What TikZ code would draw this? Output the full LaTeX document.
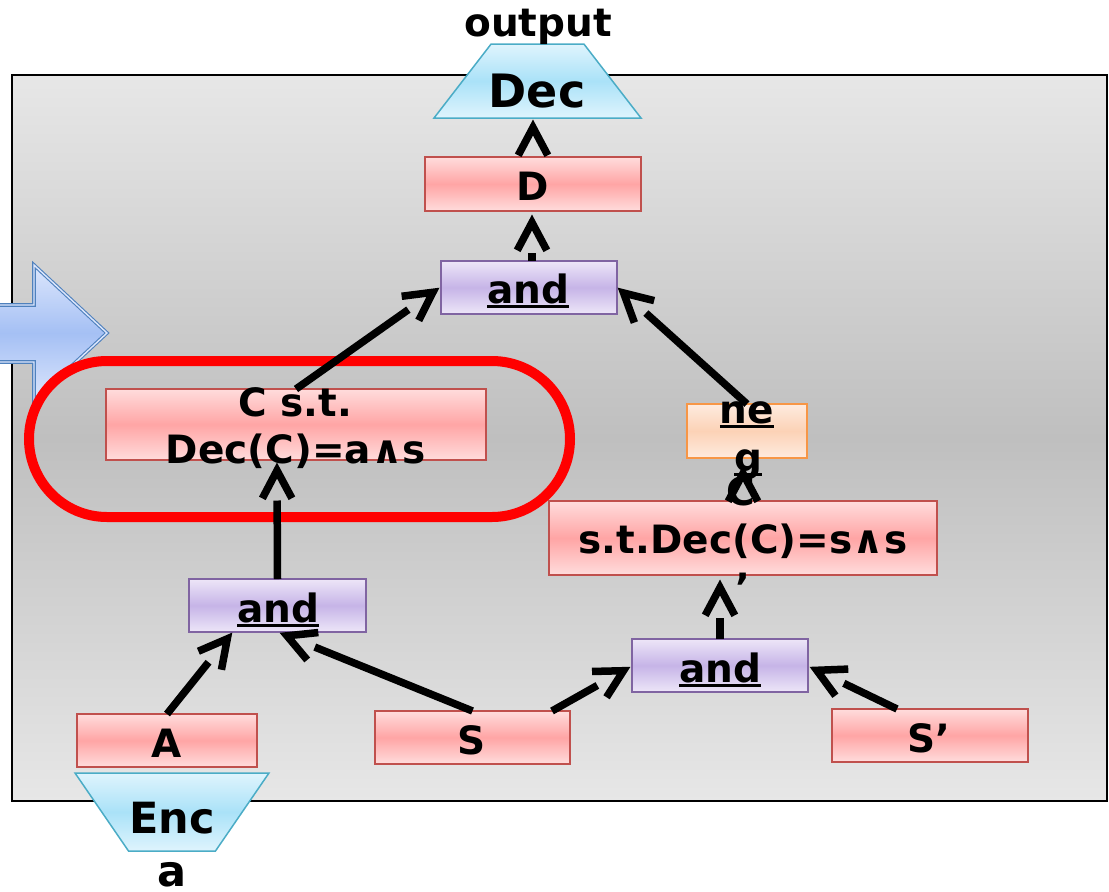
\documentclass[tikz,border=0pt]{standalone}
\usepackage{fontspec}
\setmainfont{DejaVu Sans}
\usetikzlibrary{calc,shapes.geometric}

\definecolor{frameEdge}{HTML}{E7E7E7}
\definecolor{frameMid}{HTML}{BFBFBF}
\definecolor{pinkEdge}{HTML}{FFDCDC}
\definecolor{pinkMid}{HTML}{FFA5A5}
\definecolor{pinkLine}{HTML}{C0504D}
\definecolor{purpEdge}{HTML}{EDE6F8}
\definecolor{purpMid}{HTML}{C6B4E7}
\definecolor{purpLine}{HTML}{8064A2}
\definecolor{peachEdge}{HTML}{FEEBDF}
\definecolor{peachMid}{HTML}{FCD2B6}
\definecolor{peachLine}{HTML}{F79646}
\definecolor{skyEdge}{HTML}{DFF4FD}
\definecolor{skyMid}{HTML}{AAE2F8}
\definecolor{skyLine}{HTML}{4BACC6}
\definecolor{bigEdge}{HTML}{DCE6FC}
\definecolor{bigMid}{HTML}{A5C0F4}
\definecolor{bigLine}{HTML}{4F81BD}

% underlined word with a heavy rule just under the baseline
\newcommand\ulword[1]{\setbox0=\hbox{#1}\rlap{\vrule width\wd0 height -1.5pt depth 4.5pt}\box0}

% open chevron head at #2, seen from #1
\newcommand\chevron[2]{%
  \draw[wire] ($(#2)!31.5pt!28:(#1)$) -- (#2) -- ($(#2)!31.5pt!-28:(#1)$);}
% connector: shaft stops short of the chevron
\newcommand\conn[2]{%
  \draw[wire] (#1) -- ($(#2)!30pt!(#1)$);
  \chevron{#1}{#2}}

\tikzset{
  box/.style={draw, line width=1.5pt, inner sep=0pt, outer sep=0pt},
  pinkbox/.style={box, draw=pinkLine, top color=pinkEdge, bottom color=pinkEdge, middle color=pinkMid},
  purpbox/.style={box, draw=purpLine, top color=purpEdge, bottom color=purpEdge, middle color=purpMid},
  peachbox/.style={box, draw=peachLine, top color=peachEdge, bottom color=peachEdge, middle color=peachMid},
  skybox/.style={box, inner sep=3pt, draw=skyLine, top color=skyEdge, bottom color=skyEdge, middle color=skyMid,
    trapezium, trapezium angle=58.4, trapezium stretches=true},
  wire/.style={line width=7.5pt, black, line cap=butt, line join=miter},
  lbl/.style={inner sep=0pt, anchor=base, font=\fontsize{39}{47}\selectfont\bfseries},
  biglbl/.style={lbl, font=\fontsize{46}{54}\selectfont\bfseries},
}

\begin{document}
\begin{tikzpicture}[x=1pt,y=-1pt]
\useasboundingbox (0,0) rectangle (1109,892);

% grey panel
\path[draw=black, line width=1.6pt, top color=frameEdge, bottom color=frameEdge, middle color=frameMid]
  (12,75) rectangle (1107,801);

% block arrow at the left edge
\path[draw=bigLine, line width=1.1pt, double=bigEdge, double distance=1.4pt,
      top color=bigEdge, bottom color=bigEdge, middle color=bigMid]
  (-12,305) -- (34,305) -- (34,265) -- (107,333) -- (34,401) -- (34,362) -- (-12,362) -- cycle;

% highlight round the first ciphertext
\node[draw=red, line width=10pt, rounded corners=78pt, minimum width=541pt, minimum height=156pt,
      inner sep=0pt] (focus) at (299.5,439) {};

% boxes
\node[skybox, minimum width=207pt, minimum height=74pt] (Dec) at (537.5,81) {};
\node[pinkbox, minimum width=216pt, minimum height=54pt] (D) at (533,184) {};
\node[purpbox, minimum width=176pt, minimum height=53pt] (andT) at (529,287.5) {};
\node[pinkbox, minimum width=380pt, minimum height=71pt] (Cst) at (296,424.5) {};
\node[purpbox, minimum width=177pt, minimum height=53pt] (andL) at (277.5,605.5) {};
\node[pinkbox, minimum width=180pt, minimum height=53pt] (A) at (167,740.5) {};
\node[pinkbox, minimum width=195pt, minimum height=53pt] (S) at (472.5,737.5) {};
\node[purpbox, minimum width=176pt, minimum height=53pt] (andR) at (720,665.5) {};
\node[pinkbox, minimum width=196pt, minimum height=53pt] (Sp) at (930,735.5) {};
\node[pinkbox, minimum width=388pt, minimum height=74pt] (stDec) at (743,538) {};
\node[peachbox, minimum width=120pt, minimum height=54pt] (neg) at (747,431) {};
\node[skybox, shape border rotate=180, minimum width=194pt, minimum height=78pt] (Enc) at (172,812) {};

% connector ends
\coordinate (Dec-in)  at (533,127.5);
\coordinate (andT-out) at (532,261);
\coordinate (D-in)    at (532,222.5);
\coordinate (andT-inL) at (432.9,292.3);
\coordinate (andT-inR) at (623.6,293);
\coordinate (Cst-in)  at (277,470.5);
\coordinate (andL-inL) at (227.3,638.8);
\coordinate (andL-inR) at (287,635.8);
\coordinate (S-outR)  at (552,711);
\coordinate (andR-inL) at (623.5,670.7);
\coordinate (andR-inR) at (816.8,670.3);
\coordinate (Sp-out)  at (897,709);
\coordinate (stDec-in) at (720,587.5);
\coordinate (neg-in)  at (743,473.5);

% connectors
\chevron{D.north}{Dec-in}
\conn{andT-out}{D-in}
\conn{Cst.north}{andT-inL}
\conn{neg.north}{andT-inR}
\conn{andL.north}{Cst-in}
\conn{A.north}{andL-inL}
\conn{S.north}{andL-inR}
\conn{S-outR}{andR-inL}
\conn{Sp-out}{andR-inR}
\conn{andR.north}{stDec-in}
\chevron{stDec.north}{neg-in}

% texts
\node[lbl] (out-t) at (538,36) {output};
\node[biglbl] (Dec-t) at (537,107) {Dec};
\node[lbl] (D-t) at (533,200) {D};
\node[lbl] (andT-t) at (528,303) {\ulword{and}};
\node[lbl] (Cst-t1) at (295,416) {C s.t.};
\node[lbl] (Cst-t2) at (296,463) {Dec(C)=a∧s};
\node[lbl] (andL-t) at (278,622) {\ulword{and}};
\node[lbl] (A-t) at (167,757) {A};
\node[lbl] (S-t) at (472,754) {S};
\node[lbl] (Sp-t) at (929,752) {S’};
\node[lbl] (andR-t) at (720,682) {\ulword{and}};
\node[lbl] (stDec-t1) at (741,505) {C};
\node[lbl] (stDec-t2) at (743,553) {s.t.Dec(C)=s∧s};
\node[lbl] (stDec-t3) at (743,601) {’};
\node[lbl] (neg-t1) at (747,423) {\ulword{ne}};
\node[lbl] (neg-t2) at (748,471) {\ulword{g}};
\node[lbl, font=\fontsize{43}{52}\selectfont\bfseries] (Enc-t) at (172,833) {Enc};
\node[lbl, font=\fontsize{43}{52}\selectfont\bfseries] (Enc-t2) at (172,886) {a};
\end{tikzpicture}
\end{document}
